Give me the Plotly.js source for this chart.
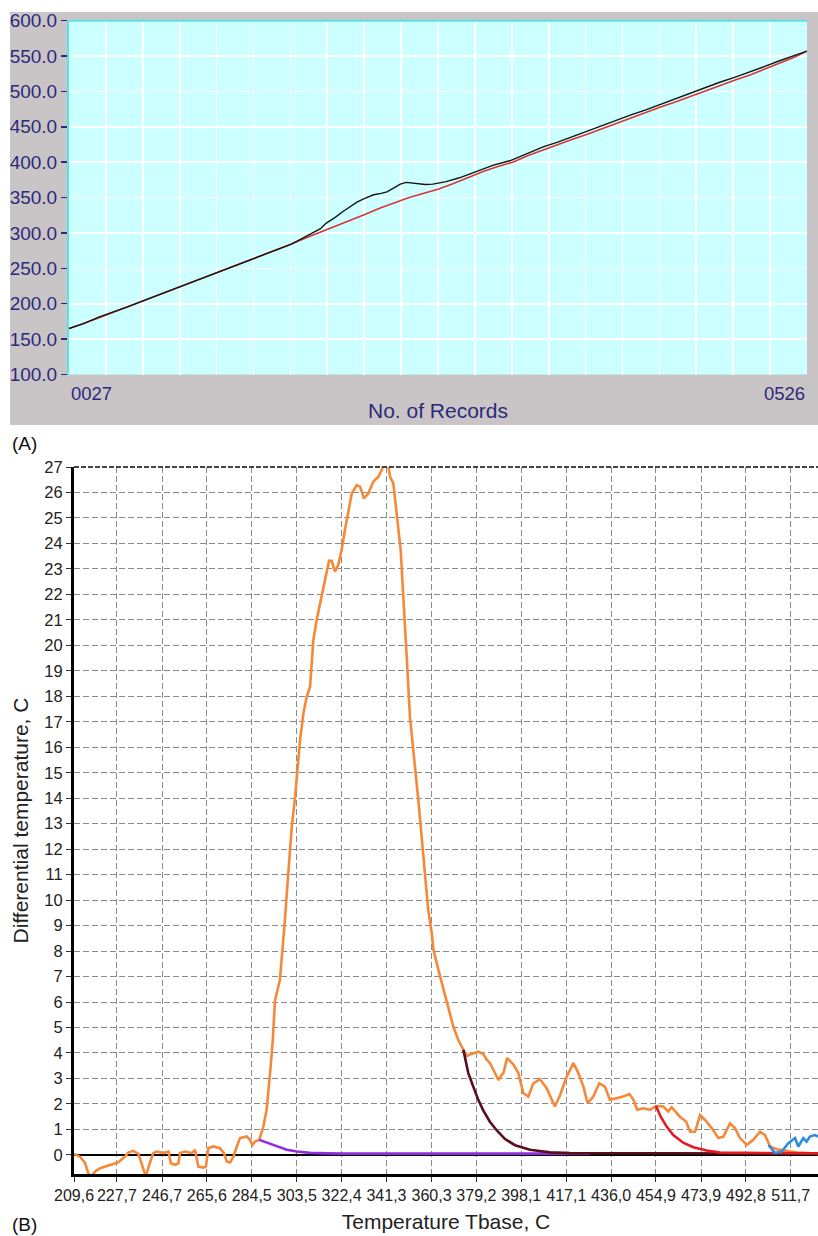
<!DOCTYPE html>
<html>
<head>
<meta charset="utf-8">
<script src="https://cdn.plot.ly/plotly-3.0.1.min.js"></script>
<style>
  html, body { margin: 0; padding: 0; background: #ffffff; }
  #chart { width: 818px; height: 1236px; }
</style>
</head>
<body>
<div id="chart"></div>
<script>
// ---------- Panel (A): temperature vs record number ----------
const recordsRed = [27, 37, 47, 57, 67, 77, 87, 97, 107, 117, 127, 137, 147, 157, 167, 177, 187, 197, 207, 217, 227, 237, 247, 257, 267, 277, 287, 297, 307, 317, 327, 337, 347, 357, 367, 377, 387, 397, 407, 417, 427, 437, 447, 457, 467, 477, 487, 497, 507, 517, 526];
const tempRed = [165, 172, 180, 188, 196, 204, 212, 220, 228, 235, 243, 251, 259, 267, 276, 284, 293, 301, 309, 318, 326, 335, 343, 350, 356, 362, 370, 379, 387, 394, 400, 409, 417, 425, 432, 439, 447, 455, 463, 470, 478, 485, 493, 501, 509, 516, 523, 531, 540, 548, 557];

const recordsBlack = [27, 37, 47, 57, 67, 77, 87, 97, 107, 117, 127, 137, 147, 157, 167, 177, 187, 193, 197, 201, 207, 212, 217, 222, 227, 233, 238, 242, 247, 251, 255, 262, 268, 273, 282, 291, 303, 314, 325, 337, 348, 357, 367, 377, 387, 397, 407, 417, 427, 437, 447, 457, 467, 477, 487, 497, 507, 517, 526];
const tempBlack = [165, 172, 181, 188, 196, 204, 212, 219, 228, 236, 243, 251, 259, 267, 276, 284, 295, 301, 306, 314, 322, 330, 337, 344, 349, 354, 356, 358, 364, 369, 371.5, 369.5, 368.5, 369, 372.5, 378, 387, 396, 402, 413, 422, 428, 436, 443, 451, 459, 467, 474, 482, 489, 497, 505, 513, 520, 527, 535, 543, 550, 557];

const recordEndLabels = ['0027', '0526'];

// ---------- Panel (B): differential temperature vs Tbase ----------
const tBaseOrange = [209.6, 212.1, 214.2, 215.6, 216.8, 218.5, 220.6, 224.8, 228.3, 231.1, 232.5, 234.6, 236.7, 238.1, 239.8, 241.3, 243.0, 244.5, 247.2, 249.4, 250.4, 252.2, 253.6, 254.3, 256.4, 259.2, 260.6, 262.0, 264.1, 265.2, 266.2, 268.3, 271.1, 272.8, 274.0, 275.4, 276.8, 278.2, 279.6, 282.4, 283.8, 284.8, 285.9, 287.7, 289.4, 290.8, 291.5, 292.5, 293.4, 293.9, 294.3, 296.4, 297.6, 298.5, 299.3, 300.4, 301.4, 302.8, 304.1, 304.9, 306.3, 307.7, 309.1, 310.5, 311.9, 313.3, 315.4, 317.1, 318.2, 319.6, 321.0, 322.4, 323.8, 325.2, 326.7, 328.8, 330.2, 331.8, 333.7, 335.8, 337.9, 339.3, 340.0, 342.1, 342.8, 344.2, 345.2, 346.3, 347.3, 348.0, 348.7, 349.5, 350.4, 351.2, 352.6, 353.6, 355.0, 356.2, 356.8, 358.3, 358.9, 360.4, 361.1, 363.2, 365.3, 367.4, 369.5, 371.6, 373.7, 375.1, 376.5, 377.9, 380.0, 382.1, 383.6, 385.0, 386.3, 388.5, 389.9, 390.6, 392.2, 394.8, 396.9, 399.0, 401.1, 403.2, 406.0, 408.8, 412.3, 414.5, 417.0, 420.1, 422.2, 424.3, 426.1, 428.5, 431.0, 433.4, 435.5, 438.4, 441.1, 443.7, 445.4, 447.0, 449.6, 452.4, 454.9, 458.0, 460.1, 461.5, 465.0, 467.6, 469.3, 471.4, 473.5, 475.6, 478.4, 481.2, 483.3, 486.1, 488.2, 490.3, 493.2, 495.9, 498.8, 500.9, 503.0, 505.8, 510.0, 514.2, 518.4, 523.2];
const dtOrange = [0.04, -0.07, -0.30, -0.72, -0.88, -0.65, -0.52, -0.39, -0.29, -0.07, 0.09, 0.16, 0.04, -0.33, -0.85, -0.39, 0.07, 0.13, 0.07, 0.13, -0.33, -0.39, -0.33, 0.07, 0.13, 0.07, 0.20, -0.46, -0.50, -0.46, 0.26, 0.33, 0.26, 0.07, -0.26, -0.30, -0.07, 0.33, 0.66, 0.72, 0.59, 0.39, 0.52, 0.59, 1.11, 1.77, 2.42, 3.47, 4.51, 5.56, 6.05, 6.87, 8.05, 9.22, 10.27, 11.58, 12.88, 14.06, 15.63, 16.29, 17.33, 17.99, 18.38, 20.21, 21.0, 21.65, 22.57, 23.32, 23.32, 22.89, 23.16, 23.74, 24.53, 25.18, 25.97, 26.29, 26.23, 25.77, 25.97, 26.43, 26.62, 26.88, 27.1, 27.05, 26.62, 26.36, 25.44, 24.66, 23.74, 22.57, 21.52, 20.21, 18.6, 17.2, 16.02, 14.98, 13.67, 12.49, 11.6, 10.27, 9.62, 8.7, 8.05, 7.26, 6.48, 5.69, 5.03, 4.51, 4.13, 3.88, 3.94, 3.99, 4.05, 3.96, 3.73, 3.6, 3.34, 2.94, 3.14, 3.21, 3.8, 3.55, 3.21, 2.42, 2.29, 2.81, 2.97, 2.62, 1.9, 2.35, 3.01, 3.6, 3.21, 2.68, 2.03, 2.29, 2.81, 2.68, 2.16, 2.22, 2.29, 2.39, 2.16, 1.77, 1.83, 1.77, 1.92, 1.9, 1.7, 1.87, 1.5, 1.31, 0.91, 0.91, 1.57, 1.37, 1.05, 0.66, 0.72, 1.24, 1.05, 0.66, 0.39, 0.59, 0.91, 0.78, 0.33, 0.22, 0.16, 0.09, 0.07, 0.04];

const tBasePurple = [287.7, 290.8, 295.0, 299.3, 303.5, 309.1, 316.0, 323.1, 427.1];
const dtPurple = [0.59, 0.48, 0.33, 0.20, 0.13, 0.08, 0.06, 0.05, 0.05];

const tBaseBrown = [373.7, 375.8, 377.9, 380.0, 382.1, 384.9, 387.9, 391.3, 395.5, 401.8, 410.2, 418.7, 523.2];
const dtBrown = [4.13, 3.21, 2.68, 2.16, 1.75, 1.30, 0.95, 0.62, 0.38, 0.20, 0.10, 0.07, 0.05];

const tBaseRed = [454.9, 456.9, 459.4, 462.2, 466.4, 470.6, 476.3, 481.9, 523.2];
const dtRed = [1.92, 1.5, 1.11, 0.78, 0.48, 0.30, 0.17, 0.09, 0.06];

const tBaseBlue = [502.3, 505.1, 507.9, 510.7, 513.5, 514.9, 517.0, 518.4, 519.8, 521.9, 523.2];
const dtBlue = [0.39, 0.07, 0.13, 0.46, 0.66, 0.33, 0.66, 0.52, 0.72, 0.78, 0.72];

const tBaseTickLabels = ['209,6', '227,7', '246,7', '265,6', '284,5', '303,5', '322,4', '341,3', '360,3', '379,2', '398,1', '417,1', '436,0', '454,9', '473,9', '492,8', '511,7'];

// ---------- layout helpers ----------
const W = 818, H = 1236;
const px = v => v / W;
const py = v => 1 - v / H;

const navy = '#2d2a7c';
const gridVals = [];
for (let k = 0; k <= 20; k++) gridVals.push(27 + k * (526 - 27) / 20);
const tBaseTickVals = tBaseTickLabels.map(s => parseFloat(s.replace(',', '.')));

const traces = [
  { x: recordsRed, y: tempRed, type: 'scatter', mode: 'lines', xaxis: 'x', yaxis: 'y',
    line: { color: '#dc3434', width: 1.6 }, name: 'red' },
  { x: recordsBlack, y: tempBlack, type: 'scatter', mode: 'lines', xaxis: 'x', yaxis: 'y',
    line: { color: '#151515', width: 1.4 }, name: 'black' },
  { x: tBaseOrange, y: dtOrange, type: 'scatter', mode: 'lines', xaxis: 'x2', yaxis: 'y2',
    line: { color: '#f6883a', width: 2.6 }, name: 'orange' },
  { x: tBasePurple, y: dtPurple, type: 'scatter', mode: 'lines', xaxis: 'x2', yaxis: 'y2',
    line: { color: '#8e2de2', width: 2.6 }, name: 'purple' },
  { x: tBaseBrown, y: dtBrown, type: 'scatter', mode: 'lines', xaxis: 'x2', yaxis: 'y2',
    line: { color: '#5a0d1c', width: 2.6 }, name: 'brown' },
  { x: tBaseRed, y: dtRed, type: 'scatter', mode: 'lines', xaxis: 'x2', yaxis: 'y2',
    line: { color: '#e41a22', width: 2.6 }, name: 'red2' },
  { x: tBaseBlue, y: dtBlue, type: 'scatter', mode: 'lines', xaxis: 'x2', yaxis: 'y2',
    line: { color: '#2f8be0', width: 2.6 }, name: 'blue' }
];

const layout = {
  width: W, height: H,
  margin: { l: 0, r: 0, t: 0, b: 0 },
  paper_bgcolor: '#ffffff',
  plot_bgcolor: 'rgba(0,0,0,0)',
  showlegend: false,
  font: { family: 'Liberation Sans, Arial, sans-serif', color: '#1a1a1a' },
  xaxis: {
    domain: [px(69), px(807)], range: [27, 526], anchor: 'y',
    tickmode: 'array', tickvals: gridVals, showticklabels: false, ticks: '',
    showgrid: true, gridcolor: '#ffffff', gridwidth: 1.6, zeroline: false, showline: false,
    title: { text: 'No. of Records', font: { size: 21, color: navy }, standoff: 28 },
    automargin: false, fixedrange: true
  },
  yaxis: {
    domain: [py(374.5), py(20.7)], range: [100, 600], anchor: 'x',
    tickmode: 'linear', tick0: 100, dtick: 50, tickformat: '.1f',
    ticks: 'outside', ticklen: 6, tickwidth: 1.5, tickcolor: navy,
    tickfont: { size: 19, color: navy },
    showgrid: true, gridcolor: '#ffffff', gridwidth: 1.6, zeroline: false,
    showline: true, linecolor: '#5ae3e6', linewidth: 2,
    automargin: false, fixedrange: true
  },
  xaxis2: {
    domain: [px(74), 1], range: [209.6, 523.2], anchor: 'y2',
    tickmode: 'array', tickvals: tBaseTickVals, ticktext: tBaseTickLabels, tickangle: 0,
    tickfont: { size: 16, color: '#222' }, ticks: 'outside', ticklen: 5, tickcolor: '#333',
    showgrid: true, gridcolor: '#8a8a8a', gridwidth: 1, griddash: '6px,3px',
    zeroline: false, showline: true, linecolor: '#000', linewidth: 3,
    title: { text: 'Temperature Tbase, C', font: { size: 21, color: '#222' }, standoff: 12 },
    automargin: false, fixedrange: true
  },
  yaxis2: {
    domain: [py(1174), py(467)], range: [-0.75, 27], anchor: 'x2',
    tickmode: 'linear', tick0: 0, dtick: 1,
    tickfont: { size: 16.5, color: '#222' }, ticks: 'outside', ticklen: 5, tickcolor: '#333',
    showgrid: true, gridcolor: '#8a8a8a', gridwidth: 1, griddash: '6px,3px',
    zeroline: true, zerolinecolor: '#000', zerolinewidth: 2.2,
    showline: true, linecolor: '#000', linewidth: 3,
    title: { text: 'Differential temperature, C', font: { size: 21, color: '#222' }, standoff: 10 },
    automargin: false, fixedrange: true
  },
  shapes: [
    { type: 'rect', xref: 'paper', yref: 'paper', x0: px(10), x1: 1, y0: py(425), y1: py(12),
      fillcolor: '#c9c5c6', line: { width: 0 }, layer: 'below' },
    { type: 'rect', xref: 'x domain', yref: 'y domain', x0: 0, x1: 1, y0: 0, y1: 1,
      fillcolor: '#ccffff', line: { width: 0 }, layer: 'below' },
    { type: 'line', xref: 'x domain', yref: 'y domain', x0: 0, x1: 1, y0: 1, y1: 1,
      line: { color: '#5ae3e6', width: 2 } },
    { type: 'line', xref: 'x2 domain', yref: 'y2 domain', x0: 0, x1: 1, y0: 1, y1: 1,
      line: { color: '#444', width: 1.8, dash: '5px,2px' } }
  ],
  annotations: [
    { text: recordEndLabels[0], xref: 'x', yref: 'paper', x: 27, y: py(394), xanchor: 'left', yanchor: 'middle',
      showarrow: false, font: { size: 18.5, color: navy } },
    { text: recordEndLabels[1], xref: 'x', yref: 'paper', x: 526, y: py(394), xanchor: 'right', yanchor: 'middle',
      showarrow: false, font: { size: 18.5, color: navy } },
    { text: '(A)', xref: 'paper', yref: 'paper', x: px(10), y: py(443), xanchor: 'left', yanchor: 'middle',
      showarrow: false, font: { size: 19, color: '#111' } },
    { text: '(B)', xref: 'paper', yref: 'paper', x: px(10), y: py(1224), xanchor: 'left', yanchor: 'middle',
      showarrow: false, font: { size: 19, color: '#111' } }
  ]
};

Plotly.newPlot('chart', traces, layout, { displayModeBar: false, staticPlot: true });
</script>
</body>
</html>
